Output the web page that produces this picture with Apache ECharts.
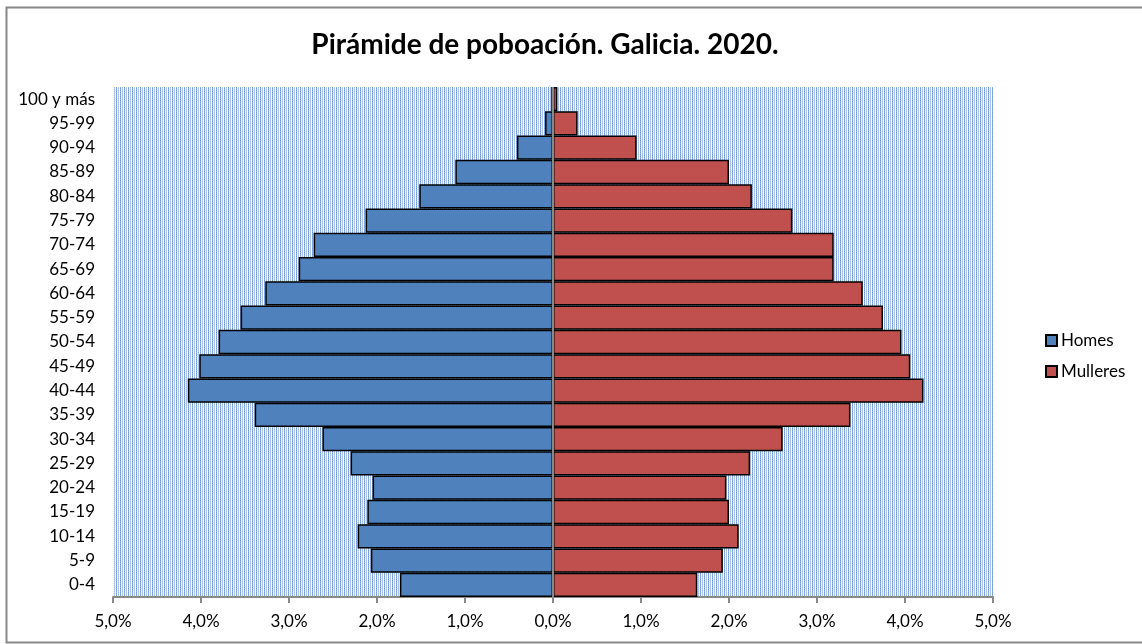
<!DOCTYPE html>
<html>
<head>
<meta charset="utf-8">
<script src="https://cdn.jsdelivr.net/npm/echarts@6/dist/echarts.min.js"></script>
<style>
  html, body { margin: 0; padding: 0; background: #fff; }
  #chart { width: 1142px; height: 644px; }
</style>
</head>
<body>
<div id="chart"></div>
<script>
// grupos de idade (de abaixo a arriba)
const idades = ["0-4", "5-9", "10-14", "15-19", "20-24", "25-29", "30-34", "35-39",
  "40-44", "45-49", "50-54", "55-59", "60-64", "65-69", "70-74", "75-79",
  "80-84", "85-89", "90-94", "95-99", "100 y más"];
// % sobre o total da poboación
const homes = [1.74, 2.07, 2.22, 2.11, 2.05, 2.30, 2.62, 3.39, 4.15, 4.02, 3.80,
  3.55, 3.27, 2.89, 2.72, 2.13, 1.52, 1.11, 0.41, 0.09, 0.02];
const mulleres = [1.64, 1.93, 2.11, 2.00, 1.97, 2.24, 2.61, 3.38, 4.21, 4.06, 3.96,
  3.75, 3.52, 3.19, 3.19, 2.72, 2.26, 2.00, 0.95, 0.28, 0.05];
const ticksX = [-5, -4, -3, -2, -1, 0, 1, 2, 3, 4, 5];

// fondo punteado tipo Excel
function patron() {
  const c = document.createElement("canvas");
  c.width = 8; c.height = 4;
  const ctx = c.getContext("2d");
  ctx.fillStyle = "#ffffff";
  ctx.fillRect(0, 0, 8, 4);
  const cores = ["#6d98d6", "#ffffff", "#b4c9ea", "#ffffff", "#8fb0e0", "#e6edf8", "#a5bfe6", "#ffffff"];
  for (let x = 0; x < 8; x++) {
    for (let y = 0; y < 4; y++) {
      ctx.fillStyle = (y % 2 === 0) ? cores[x] : cores[(x + 4) % 8];
      ctx.fillRect(x, y, 1, 1);
    }
  }
  return c;
}

const chart = echarts.init(document.getElementById("chart"));
const fonte = "Lato, 'Open Sans', sans-serif";

chart.setOption({
  animation: false,
  textStyle: { fontFamily: fonte },
  title: {
    text: "Pirámide de poboación. Galicia. 2020.",
    left: 540,
    textAlign: "center",
    top: 26,
    textStyle: { fontSize: 28, fontWeight: "bold", color: "#000", fontFamily: fonte }
  },
  legend: {
    orient: "vertical",
    left: 1040,
    top: 327,
    itemGap: 14,
    itemWidth: 11,
    itemHeight: 11,
    icon: "rect",
    textStyle: { fontSize: 17, color: "#000", padding: [0, 0, 0, -1] },
    data: ["Homes", "Mulleres"]
  },
  grid: {
    left: 113,
    right: 149,
    top: 87,
    bottom: 47,
    show: true,
    borderWidth: 0,
    backgroundColor: { image: patron(), repeat: "repeat" }
  },
  xAxis: {
    type: "value",
    min: -5,
    max: 5,
    interval: 1,
    splitLine: { show: false },
    axisLine: { show: true, lineStyle: { color: "#888", width: 2 } },
    axisTick: { show: true, length: 6, lineStyle: { color: "#888", width: 2 } },
    axisLabel: {
      fontSize: 17,
      color: "#000",
      margin: 16,
      formatter: v => ticksX.includes(v) ? Math.abs(v).toFixed(1).replace(".", ",") + "%" : ""
    }
  },
  yAxis: {
    type: "category",
    data: idades,
    axisLine: { show: false },
    axisTick: { show: false },
    axisLabel: { fontSize: 17, color: "#000", margin: 18 }
  },
  series: [
    {
      name: "Homes",
      type: "bar",
      stack: "p",
      barCategoryGap: 0,
      data: homes.map(v => -v),
      itemStyle: { color: "#4f81bd", borderColor: "#000", borderWidth: 1.5 }
    },
    {
      name: "Mulleres",
      type: "bar",
      stack: "p",
      barCategoryGap: 0,
      data: mulleres,
      itemStyle: { color: "#c0504d", borderColor: "#000", borderWidth: 1.5 },
      markLine: {
        silent: true,
        symbol: "none",
        label: { show: false },
        lineStyle: { color: "#888", width: 2, type: "solid" },
        data: [{ xAxis: 0 }]
      }
    }
  ],
  graphic: [
    {
      type: "polyline",
      shape: { points: [[1142, 7.5], [6.5, 7.5], [6.5, 642.5], [1142, 642.5]] },
      style: { stroke: "#888", lineWidth: 2, fill: null },
      silent: true
    }
  ]
});
</script>
</body>
</html>
